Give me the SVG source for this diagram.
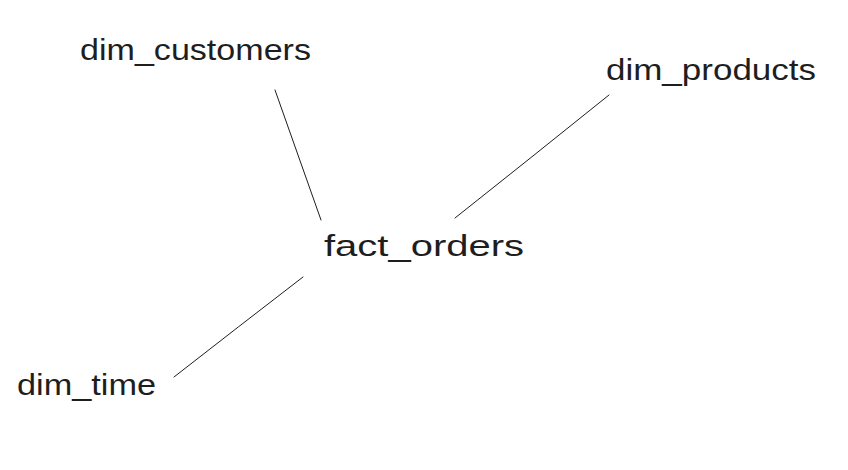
<svg xmlns="http://www.w3.org/2000/svg" width="848" height="470" viewBox="0 0 848 470">
<style>
.lbl{font-family:"Liberation Sans","DejaVu Sans",sans-serif;font-size:30px;fill:#1e1e1e}
.edge{stroke:#1e1e1e;stroke-width:1;fill:none;stroke-linecap:round}
</style>
<rect width="848" height="470" fill="#ffffff"/>
<g id="connectors">
<path class="edge" d="M275,90 Q298,155 321,220"/>
<path class="edge" d="M609,95 Q532,157 455,218"/>
<path class="edge" d="M303,277 Q238,327 174,377"/>
</g>
<g id="dim_customers"><text class="lbl" x="80" y="60" textLength="231" lengthAdjust="spacingAndGlyphs">dim_customers</text></g>
<g id="dim_products"><text class="lbl" x="606" y="80" textLength="210" lengthAdjust="spacingAndGlyphs">dim_products</text></g>
<g id="fact_orders"><text class="lbl" x="324" y="256" textLength="200" lengthAdjust="spacingAndGlyphs">fact_orders</text></g>
<g id="dim_time"><text class="lbl" x="17" y="395" textLength="139" lengthAdjust="spacingAndGlyphs">dim_time</text></g>
</svg>
